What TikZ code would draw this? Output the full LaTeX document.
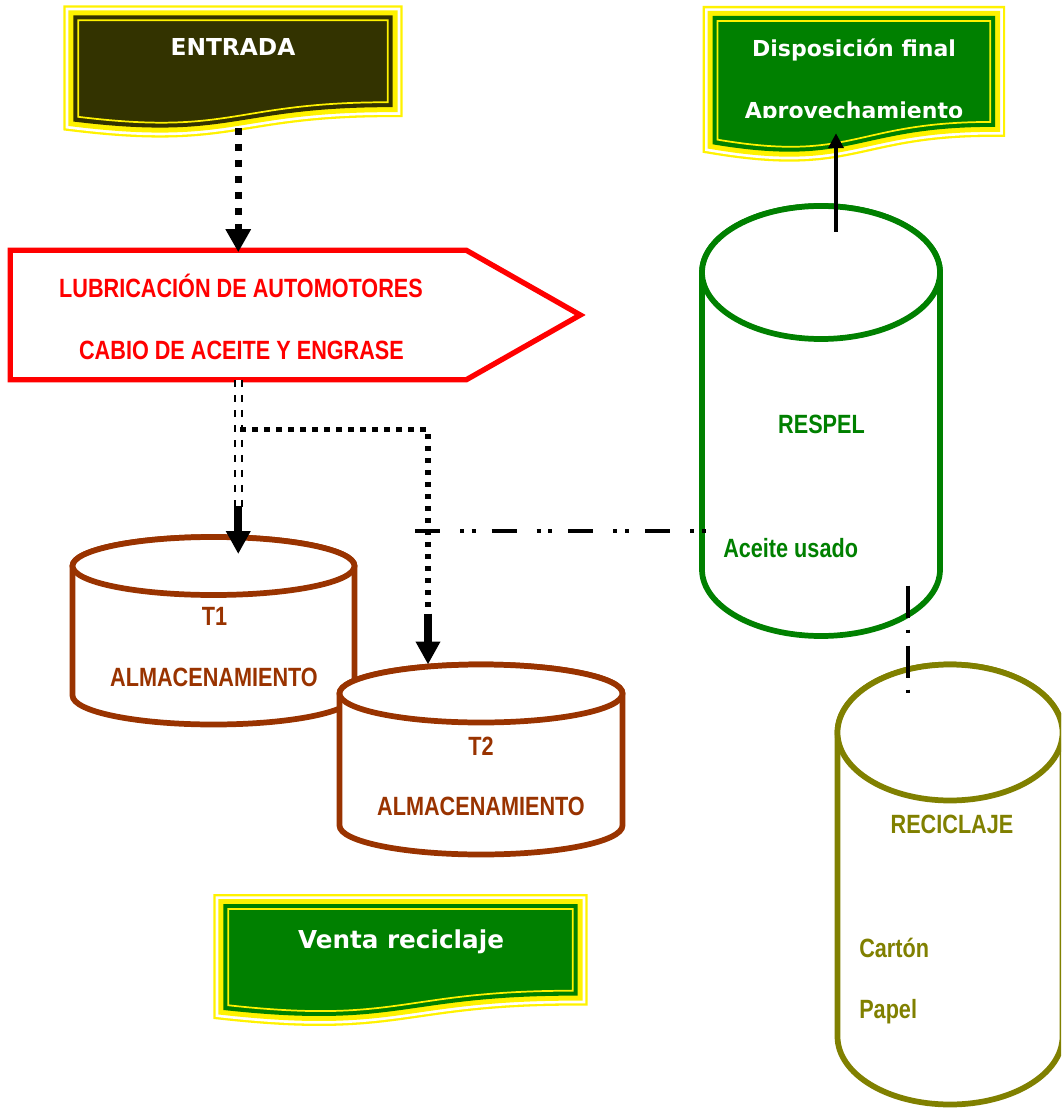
\documentclass[tikz,border=0pt]{standalone}
\usepackage{fontspec}
\setmainfont{Liberation Sans}
\newfontfamily\narrowfont[FakeStretch=0.82]{Liberation Sans}
\newfontfamily\bannerfont{DejaVu Sans}
\usetikzlibrary{arrows.meta, calc}

\definecolor{tankbrown}{RGB}{153,51,0}
\definecolor{respelgreen}{RGB}{0,128,0}
\definecolor{recycleolive}{RGB}{128,128,0}
\definecolor{entradadark}{RGB}{51,51,0}

% banner with wavy bottom: name, fill, x, y, width, height
\newcommand\banner[6]{%
  \path[bannerframe=#2] (#3,#4) -- ({#3+#5},#4) -- ({#3+#5},{#4+.802*#6})
    .. controls ({#3+#5/2},{#4+.802*#6}) and ({#3+#5/2},{#4+1.107*#6}) .. (#3,{#4+.934*#6}) -- cycle;
  \draw[bannerline] ({#3+3.2},{#4+3.2}) -- ({#3+#5-3.2},{#4+3.2}) -- ({#3+#5-3.2},{#4+.802*#6-3.2})
    .. controls ({#3+#5/2},{#4+.802*#6-3.2}) and ({#3+#5/2},{#4+1.107*#6-3.2}) .. ({#3+3.2},{#4+.934*#6-3.2}) -- cycle;
  \node[inner sep=0pt, minimum width=#5*0.75pt, minimum height=#6*0.75pt, anchor=north west] (#1) at (#3,#4) {};
}

% tank: name, colour, cx, top cy, rx, ry, bottom cy
\newcommand\drum[7]{%
  \path[drumline=#2] ({#3-#5},#4) -- ({#3-#5},#7)
    arc[start angle=180, end angle=0, x radius=#5, y radius=#6]
    -- ({#3+#5},#4)
    arc[start angle=0, end angle=-180, x radius=#5, y radius=#6] -- cycle;
  \draw[drumline=#2] (#3,#4) ellipse[x radius=#5, y radius=#6];
  \node[inner sep=0pt, minimum width=2*#5*0.75pt, minimum height=(#7-#4+2*#6)*0.75pt, anchor=north] (#1) at (#3,{#4-#6}) {};
}

\begin{document}
\begin{tikzpicture}[
    x=0.75pt, y=-0.75pt,
    % --- Style Definitions ---
    bannerframe/.style={
        preaction={draw=yellow, line width=17.55pt},
        preaction={draw=white, line width=14.1pt},
        preaction={draw=yellow, line width=10.05pt},
        fill=#1, draw=#1, line width=2.55pt
    },
    bannerline/.style={draw=yellow, line width=1.3pt},
    bannertext/.style={
        font=\bannerfont\bfseries\fontsize{#1}{#1}\selectfont,
        text=white, inner sep=0pt
    },
    bannertext/.default=17.5pt,
    procframe/.style={draw=red, line width=4pt},
    proctext/.style={
        font=\narrowfont\bfseries\fontsize{19.8pt}{24pt}\selectfont,
        text=red, inner sep=0pt
    },
    drumline/.style={draw=#1, line width=4.3pt, fill=white},
    drumtext/.style={
        font=\narrowfont\bfseries\fontsize{19.8pt}{24pt}\selectfont,
        text=#1, inner sep=0pt
    },
    dotarrow/.style={
        -{Triangle[length=17.25pt, width=18pt]},
        line width=5.5pt, dash pattern=on 5.5pt off 6.5pt
    },
    dbldash/.style={
        double, line width=1.7pt, double distance=3.6pt,
        dash pattern=on 5.25pt off 6pt
    },
    dotline/.style={line width=4pt, dash pattern=on 4pt off 5pt},
    shaftarrow/.style={-{Triangle[length=17.25pt, width=17.5pt]}, line width=6pt},
    dashdotdot/.style={
        line width=2.6pt,
        dash pattern=on 18.75pt off 15pt on 3pt off 5.8pt on 3pt off 12pt
    },
    dashdot/.style={
        line width=2.6pt,
        dash pattern=on 24pt off 9pt on 2.25pt off 9.75pt
    },
    solidarrow/.style={-{Triangle[length=11.25pt, width=11.25pt]}, line width=3pt}
]
\useasboundingbox (0,0) rectangle (1061,1109);
\clip (0,0) rectangle (1061,1109);

% ================= Banners =================
\banner{entrada}{entradadark}{75}{17}{316}{110.3}
\node[bannertext, anchor=base] (entradatxt) at (233,56) {ENTRADA};

\banner{disp}{respelgreen}{714.4}{17.7}{279}{134}
\node[bannertext=16.5pt, anchor=base] (disptxta) at (854,57) {Disposición final};
\begin{scope}
    \clip (714,0) rectangle (994,117.5);
    \node[bannertext=16.5pt, anchor=base] (disptxtb) at (854,119) {Aprovechamiento};
\end{scope}

\banner{venta}{respelgreen}{225}{905.7}{351}{110}
\node[bannertext=18.5pt, anchor=base] (ventatxt) at (401,948) {Venta reciclaje};

% ================= Process =================
\node[inner sep=0pt, minimum width=341.6pt, minimum height=96.75pt] (lubric) at (238.25,315) {};
\draw[procframe] (lubric.north west) -- (lubric.north east) -- ($(lubric.east)+(114,0)$)
    -- (lubric.south east) -- (lubric.south west) -- cycle;
\node[proctext, anchor=base] (lubrica) at (241,297) {LUBRICACIÓN DE AUTOMOTORES};
\node[proctext, anchor=base] (lubricb) at (241.5,359) {CABIO DE ACEITE Y ENGRASE};

% ================= Tanks =================
\drum{t1}{tankbrown}{213.5}{566}{141}{29}{695.5}
\node[drumtext=tankbrown, anchor=base] (t1a) at (214.5,625) {T1};
\node[drumtext=tankbrown, anchor=base] (t1b) at (214,686) {ALMACENAMIENTO};

\drum{t2}{tankbrown}{481}{693.5}{141.5}{29}{825.5}
\node[drumtext=tankbrown, anchor=base] (t2a) at (481,755) {T2};
\node[drumtext=tankbrown, anchor=base] (t2b) at (481,815) {ALMACENAMIENTO};

\drum{respel}{respelgreen}{821}{272.5}{119}{66.5}{569.5}
\node[drumtext=respelgreen, anchor=base] (respela) at (821.5,433) {RESPEL};
\node[drumtext=respelgreen, anchor=base west] (respelb) at (723,557) {Aceite usado};

\drum{reciclaje}{recycleolive}{950}{732.5}{112.5}{68}{1036.5}
\node[drumtext=recycleolive, anchor=base] (reciclajea) at (952,833) {RECICLAJE};
\node[drumtext=recycleolive, anchor=base west] (reciclajeb) at (859,957) {Cartón};
\node[drumtext=recycleolive, anchor=base west] (reciclajec) at (859,1018) {Papel};

% ================= Connectors =================
\draw[dotarrow] (entrada.south -| lubric.north) -- ($(lubric.north)+(0,2)$);

\draw[dbldash] (lubric.south) -- ($(lubric.south |- t1.north)+(0,-30)$);
\draw[shaftarrow] ($(lubric.south |- t1.north)+(0,-31)$) -- ($(lubric.south |- t1.north)+(0,17)$);

\draw[dotline] ($(lubric.south)+(2,50)$) -| ($(t2.north)+(-53,-50)$);
\draw[shaftarrow] ($(t2.north)+(-53,-51)$) -- ($(t2.north)+(-53,0)$);

\coordinate (oilsrc) at (415,531);
\draw[dashdotdot] (oilsrc) -- ($(oilsrc -| respel.west)+(4,0)$);

\draw[dashdot] ($(respel.south)+(87,-51)$) -- ($(reciclaje.north)+(-42,29)$);

\draw[solidarrow] ($(respel.north)+(15,26)$) -- ($(respel.north |- disp.south)+(15,-19)$);

\end{tikzpicture}
\end{document}
